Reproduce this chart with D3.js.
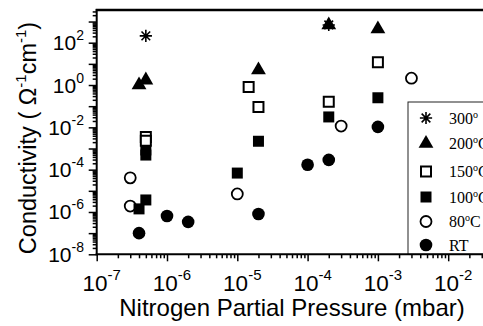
<!DOCTYPE html>
<html><head><meta charset="utf-8">
<script src="https://cdn.jsdelivr.net/npm/d3@7/dist/d3.min.js"></script>
<style>html,body{margin:0;padding:0;background:#fff;overflow:hidden}</style>
</head><body><svg id="c" width="483" height="326"></svg>
<script>
// ---- data (pressure in mbar, conductivity in S/cm) ----
const seriesNames = ["RT", "80°C", "100°C", "150°C", "200°C", "300°"];
const rtP    = [4e-7, 1e-6, 2e-6, 2e-5, 1e-4, 2e-4, 1e-3];
const rtC    = [1.0e-7, 6.5e-7, 3.4e-7, 8e-7, 1.7e-4, 2.9e-4, 0.0105];
const c80P   = [3e-7, 3e-7, 1e-5, 3e-4, 3e-3];
const c80C   = [4.1e-5, 1.9e-6, 7.1e-6, 0.0115, 2.1];
const c100P  = [5e-7, 5e-7, 5e-7, 4e-7, 1e-5, 2e-5, 2e-4, 1e-3];
const c100C  = [8.5e-4, 4.9e-4, 3.7e-6, 1.4e-6, 6.9e-5, 2.2e-3, 0.031, 0.25];
const c150P  = [5e-7, 5e-7, 1.45e-5, 2e-5, 2e-4, 1e-3];
const c150C  = [3.5e-3, 2.3e-3, 0.81, 0.091, 0.16, 12];
const c200P  = [4e-7, 5e-7, 2e-5, 2e-4, 1e-3];
const c200C  = [1.0, 1.7, 5.1, 690, 440];
const c300P  = [5e-7, 2e-4];
const c300C  = [210, 690];
const xTickExps = [-7, -6, -5, -4, -3, -2];
const yTickExps = [2, 0, -2, -4, -6, -8];
const legendLabels = ["300°", "200°C", "150°C", "100°C", "80°C", "RT"];

const svg = d3.select("#c");
const W = 483, H = 326;

const x = d3.scaleLog().domain([1e-7, 1e-1]).range([96.7, 96.7 + 6 * 70.3]);
let y = d3.scaleLog().domain([1e-8, 1e2]).range([254.3, 42.7]);
const yTop = y.invert(10);
y = d3.scaleLog().domain([1e-8, yTop]).range([254.3, 10]);

const sans = "Liberation Sans, Arial, sans-serif";
const serif = "Liberation Serif, Times New Roman, serif";

// ---- axes ----
function logTicks(lo, hi) {
  const major = [], minor = [];
  for (let e = Math.floor(Math.log10(lo)); e <= Math.ceil(Math.log10(hi)); e++) {
    const p = Math.pow(10, e);
    if (p >= lo * 0.999 && p <= hi * 1.001) major.push(p);
    for (let k = 2; k <= 9; k++) { const v = k * p; if (v >= lo && v <= hi) minor.push(v); }
  }
  return {major, minor};
}
const yt = logTicks(1e-8, yTop);
const xt = logTicks(1e-7, 1e-1);

const gy = svg.append("g").attr("transform", "translate(96.7,0)");
gy.call(d3.axisLeft(y).tickValues(yt.minor).tickSize(4).tickFormat(""));
gy.append("g").call(d3.axisLeft(y).tickValues(yt.major).tickSize(8).tickFormat(""));
gy.selectAll(".domain").remove();
gy.selectAll("line").attr("stroke", "#000").attr("stroke-width", 1.5);

const gx = svg.append("g").attr("transform", "translate(0,254.3)");
gx.call(d3.axisBottom(x).tickValues(xt.minor).tickSize(4).tickFormat(""));
gx.append("g").call(d3.axisBottom(x).tickValues(xt.major).tickSize(7).tickFormat(""));
gx.selectAll(".domain").remove();
gx.selectAll("line").attr("stroke", "#000").attr("stroke-width", 1.5);

// frame lines
svg.append("line").attr("x1", 96.7).attr("x2", 96.7).attr("y1", 9).attr("y2", 255.3)
  .attr("stroke", "#000").attr("stroke-width", 2);
svg.append("line").attr("x1", 95.7).attr("x2", W).attr("y1", 10).attr("y2", 10)
  .attr("stroke", "#000").attr("stroke-width", 2.5);

// tick labels
yTickExps.forEach(e => {
  const t = svg.append("text").attr("x", 84).attr("y", y(Math.pow(10, e)) + 7.5)
    .attr("text-anchor", "end").attr("font-family", sans).attr("font-size", 21);
  t.append("tspan").text("10");
  t.append("tspan").attr("dy", -10).attr("font-size", 14).text(String(e));
});
xTickExps.forEach(e => {
  const t = svg.append("text").attr("x", x(Math.pow(10, e)) + 5).attr("y", 291)
    .attr("text-anchor", "middle").attr("font-family", sans).attr("font-size", 22.5);
  t.append("tspan").text("10");
  t.append("tspan").attr("dy", -11).attr("font-size", 15).text(String(e));
});

// axis titles
svg.append("text").attr("x", 292).attr("y", 316).attr("text-anchor", "middle")
  .attr("font-family", sans).attr("font-size", 24).text("Nitrogen Partial Pressure (mbar)");
const yl = svg.append("text").attr("transform", "translate(36,138) rotate(-90)")
  .attr("text-anchor", "middle").attr("font-family", sans).attr("font-size", 23.5);
yl.append("tspan").text("Conductivity ( Ω");
yl.append("tspan").attr("dy", -10).attr("font-size", 15).text("-1");
yl.append("tspan").attr("dy", 10).text("cm");
yl.append("tspan").attr("dy", -10).attr("font-size", 15).text("-1");
yl.append("tspan").attr("dy", 10).text(")");

// ---- symbols ----
const asteriskType = {
  draw(ctx, size) {
    const r = Math.sqrt(size) / 2;
    const d = r * Math.SQRT1_2;
    ctx.moveTo(-r, 0); ctx.lineTo(r, 0);
    ctx.moveTo(0, -r); ctx.lineTo(0, r);
    ctx.moveTo(-d, -d); ctx.lineTo(d, d);
    ctx.moveTo(-d, d); ctx.lineTo(d, -d);
  }
};
const styles = {
  "RT":    {type: d3.symbolCircle, size: 125, fill: "#000", stroke: "none", sw: 0},
  "80°C":  {type: d3.symbolCircle, size: 95, fill: "#fff", stroke: "#000", sw: 1.8},
  "100°C": {type: d3.symbolSquare, size: 121, fill: "#000", stroke: "none", sw: 0},
  "150°C": {type: d3.symbolSquare, size: 100, fill: "#fff", stroke: "#000", sw: 2},
  "200°C": {type: d3.symbolTriangle, size: 95, fill: "#000", stroke: "none", sw: 0},
  "300°":  {type: asteriskType, size: 150, fill: "none", stroke: "#000", sw: 1.6}
};
const dataByName = {
  "RT": [rtP, rtC], "80°C": [c80P, c80C], "100°C": [c100P, c100C],
  "150°C": [c150P, c150C], "200°C": [c200P, c200C], "300°": [c300P, c300C]
};

const plot = svg.append("g");
seriesNames.forEach(name => {
  const st = styles[name];
  const [ps, cs] = dataByName[name];
  const pts = ps.map((p, i) => ({p, c: cs[i]}));
  plot.selectAll(null).data(pts).enter().append("path")
    .attr("transform", d => `translate(${x(d.p)},${y(d.c)})`)
    .attr("d", d3.symbol().type(st.type).size(st.size))
    .attr("fill", st.fill).attr("stroke", st.stroke).attr("stroke-width", st.sw);
});

// ---- legend ----
const lg = svg.append("g");
lg.append("rect").attr("x", 408).attr("y", 102).attr("width", 100).attr("height", 152.3)
  .attr("fill", "#fff").attr("stroke", "#222").attr("stroke-width", 1);
const legendY = [118, 143.5, 171.5, 197, 221.5, 245];
legendLabels.forEach((name, i) => {
  const st = styles[name];
  lg.append("path").attr("transform", `translate(426,${legendY[i]})`)
    .attr("d", d3.symbol().type(st.type).size(st.size))
    .attr("fill", st.fill).attr("stroke", st.stroke).attr("stroke-width", st.sw);
  const t = lg.append("text").attr("x", 449).attr("y", legendY[i] + 5.5)
    .attr("font-family", serif).attr("font-size", 16);
  const m = name.match(/^(.*?)°(.*)$/);
  if (m) {
    t.append("tspan").text(m[1]);
    t.append("tspan").attr("dy", -6).attr("font-size", 10).text("o");
    t.append("tspan").attr("dy", 6).text(m[2]);
  } else t.text(name);
});
// bottom axis line over legend
svg.append("line").attr("x1", 95.7).attr("x2", W).attr("y1", 254.3).attr("y2", 254.3)
  .attr("stroke", "#000").attr("stroke-width", 2);
</script></body></html>
